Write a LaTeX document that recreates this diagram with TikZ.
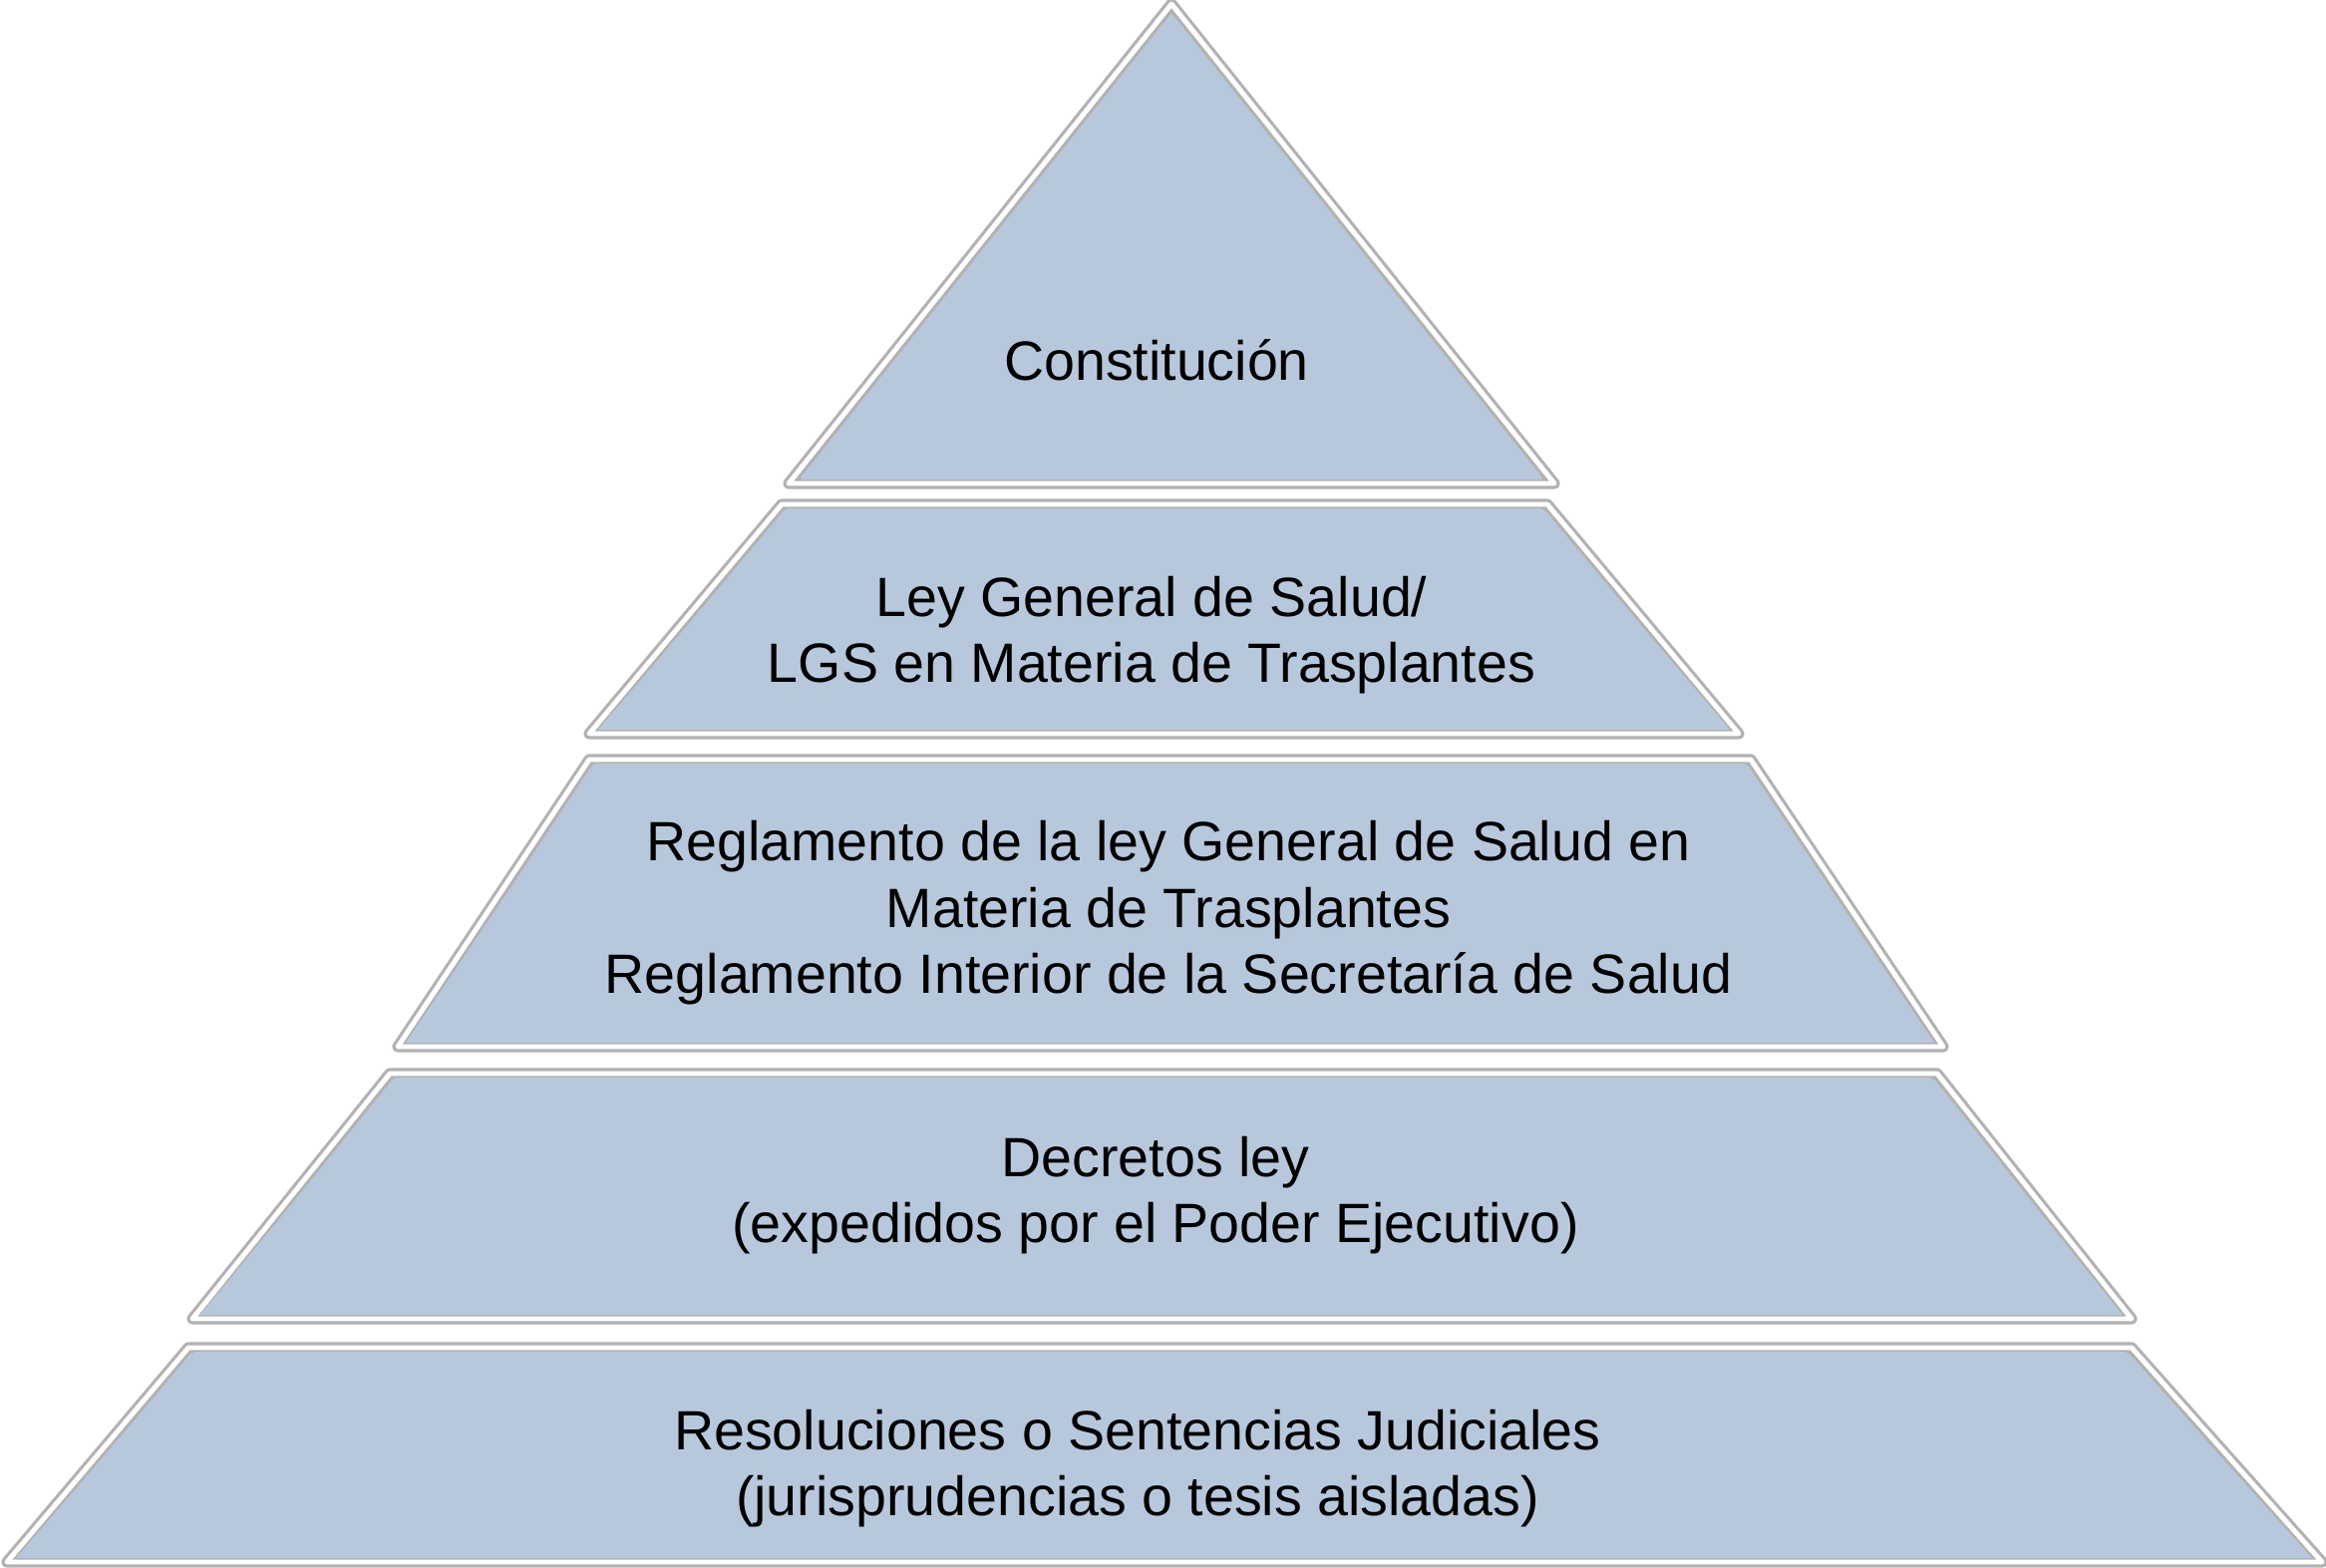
\documentclass[tikz,border=0pt]{standalone}
\usepackage{fontspec}
\setmainfont{Liberation Sans}
\definecolor{layerfill}{RGB}{184,200,220}
\definecolor{layeredge}{RGB}{178,178,178}
\begin{document}
\begin{tikzpicture}[x=0.01cm,y=-0.01cm,
  layer/.style={fill=layerfill, draw=layeredge, line width=3.2pt, line join=round},
  inner/.style={draw=white, line width=1.4pt, line join=round},
  lbl/.style={font=\fontsize{15.8}{18.9}\selectfont, align=center, text=black}]
\useasboundingbox (0,0) rectangle (2333,1572);
\fill[white] (0,0) rectangle (2333,1572);
\foreach \pts in {
  {(1175,4) -- (1559,485) -- (791,485) -- cycle},
  {(784,506) -- (1552,506) -- (1744,736) -- (591,736) -- cycle},
  {(591,762) -- (1756,762) -- (1949,1050) -- (399,1050) -- cycle},
  {(391,1077) -- (1943,1077) -- (2138,1323) -- (193,1323) -- cycle},
  {(189,1352) -- (2138,1352) -- (2329,1567) -- (7,1567) -- cycle}}{
  \draw[layer] \pts;
  \draw[inner] \pts;
}
\fill[layerfill] (1175,14) -- (1547,481) -- (803,481) -- cycle;
\fill[layerfill] (790,510) -- (1546,510) -- (1735,732) -- (600,732) -- cycle;
\fill[layerfill] (597,766) -- (1750,766) -- (1940,1046) -- (407,1046) -- cycle;
\fill[layerfill] (397,1081) -- (1937,1081) -- (2129,1319) -- (201,1319) -- cycle;
\fill[layerfill] (195,1356) -- (2132,1356) -- (2319,1563) -- (16,1563) -- cycle;
\node[lbl] (l1) at (1160,361) {Constitución};
\node[lbl] (l2) at (1155,637) {Ley General de Salud/\\LGS en Materia de Trasplantes};
\node[lbl] (l3) at (1172,916) {Reglamento de la ley General de Salud en\\Materia de Trasplantes\\Reglamento Interior de la Secretaría de Salud};
\node[lbl] (l4) at (1159,1199) {Decretos ley\\(expedidos por el Poder Ejecutivo)};
\node[lbl] (l5) at (1141,1473) {Resoluciones o Sentencias Judiciales\\(jurisprudencias o tesis aisladas)};
\end{tikzpicture}
\end{document}
